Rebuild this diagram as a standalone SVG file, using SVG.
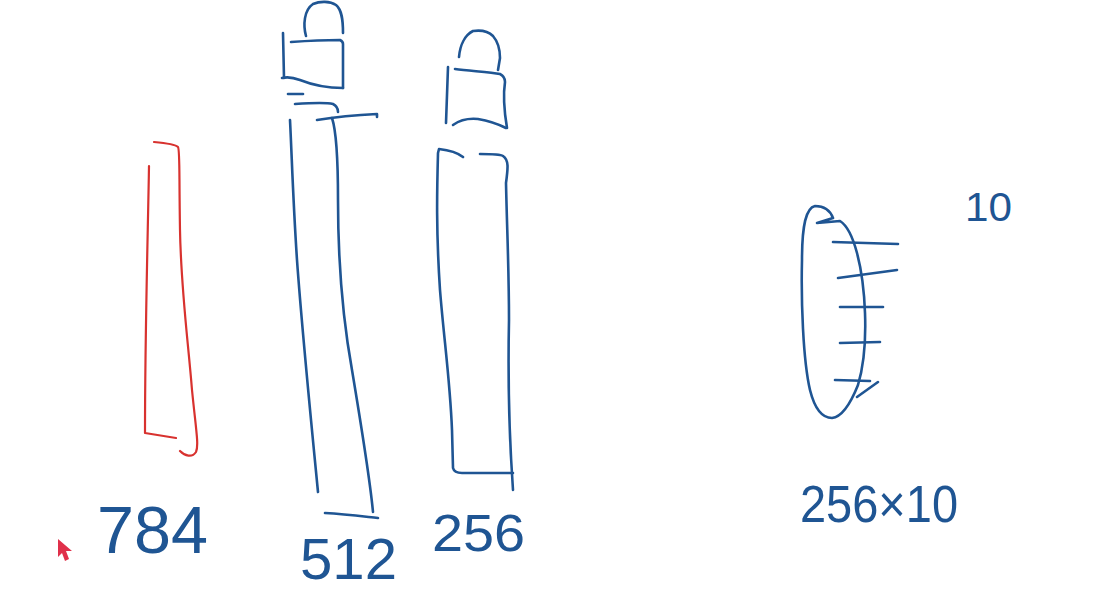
<svg xmlns="http://www.w3.org/2000/svg" width="1113" height="615" viewBox="0 0 1113 615">
<style>
.b{fill:none;stroke:#1f5593;stroke-width:2.6;stroke-linecap:round;stroke-linejoin:round}
.r{fill:none;stroke:#d8322f;stroke-width:2.2;stroke-linecap:round;stroke-linejoin:round}
.t{font-family:"Liberation Sans",Arial,sans-serif;fill:#1f5593}
</style>
<rect width="1113" height="615" fill="#ffffff"/>
<g id="layer-784">
<path class="r" d="M149,166 C148,230 145,330 145,433 L176,438"/>
<path class="r" d="M154,142 C165,143 175,144 178,147 C180,150 179,170 180,230 C181,290 188,340 192,390 C196,430 199,445 196,452 C192,458 185,456 180,451"/>
</g>
<g id="layer-512">
<path class="b" d="M283,33 L284,78"/>
<path class="b" d="M291,42 C305,41 325,40 340,40 C342,41 343,42 343,44 L343,88"/>
<path class="b" d="M282,78 C286,77 292,77 300,80 C315,86 330,88 343,88"/>
<path class="b" d="M306,36 C303,25 304,10 313,4 C320,1 330,1 336,5 C342,10 343,20 343,33"/>
<path class="b" d="M288,94 L303,94"/>
<path class="b" d="M295,104 C310,103 325,102 333,104 C337,106 338,110 338,112"/>
<path class="b" d="M317,120 C335,117 355,115 377,114 L377,117"/>
<path class="b" d="M290,120 C292,160 293,200 297,260 C302,330 310,410 318,492"/>
<path class="b" d="M332,118 C336,130 338,150 338,200 C338,260 343,320 352,370 C362,430 370,480 373,512"/>
<path class="b" d="M325,513 C345,514 360,516 378,518"/>
<text class="t" x="300" y="579" font-size="58" textLength="97" lengthAdjust="spacingAndGlyphs">512</text>
</g>
<g id="layer-256">
<path class="b" d="M459,57 C460,45 465,35 473,31 C480,30 488,31 493,36 C499,43 500,50 500,58 L498,70"/>
<path class="b" d="M448,67 L446,123"/>
<path class="b" d="M455,69 C470,71 490,72 500,74 C504,76 505,80 505,82 C503,95 504,110 507,128"/>
<path class="b" d="M453,125 C460,120 468,118 478,119 C490,121 500,125 506,128"/>
<path class="b" d="M463,157 C458,153 448,150 439,149 L438,153 C437,190 436,230 440,290 C444,340 450,380 452,430 L453,468 C454,472 457,473 462,473 L513,473"/>
<path class="b" d="M480,154 C490,154 500,154 503,156 C509,160 508,168 506,183 C507,230 509,270 509,320 C508,370 508,420 513,490"/>
<text class="t" x="432" y="551" font-size="52" textLength="93" lengthAdjust="spacingAndGlyphs">256</text>
</g>
<g id="layer-output">
<path class="b" d="M817,223 L833,218 C830,210 824,206 815,206 C806,208 802,225 802,260 C801,300 803,360 810,390 C815,410 823,418 832,418 C842,417 850,405 858,385 C864,365 866,340 865,313 C864,285 861,268 857,253 C853,238 848,226 840,221 Z"/>
<path class="b" d="M857,397 L878,382"/>
<path class="b" d="M833,242 L898,244"/>
<path class="b" d="M838,278 L897,270"/>
<path class="b" d="M840,307 L883,307"/>
<path class="b" d="M840,343 L880,342"/>
<path class="b" d="M835,380 L870,381"/>
<text class="t" x="965" y="221" font-size="40" textLength="47" lengthAdjust="spacingAndGlyphs">10</text>
<text class="t" x="800" y="522" font-size="52" textLength="158" lengthAdjust="spacingAndGlyphs">256×10</text>
</g>
<text class="t" x="97" y="553" font-size="66" textLength="111" lengthAdjust="spacingAndGlyphs">784</text>
<polygon points="58,539 58,557 62,553 65,561 69,559 66,551 72,551" fill="#e0304a"/>
</svg>
